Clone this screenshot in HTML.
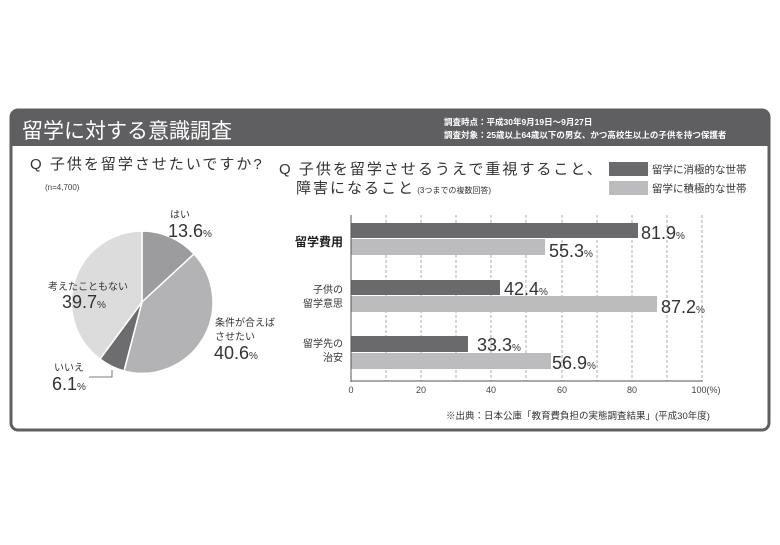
<!DOCTYPE html>
<html><head><meta charset="utf-8"><style>
body{margin:0;background:#fff;width:780px;height:540px;overflow:hidden;font-family:"Liberation Sans","Noto Sans CJK JP",sans-serif;}
</style></head><body>
<svg width="780" height="540" viewBox="0 0 780 540" xmlns="http://www.w3.org/2000/svg" font-family="Liberation Sans, Noto Sans CJK JP, sans-serif">
<rect x="11" y="110" width="758" height="320" rx="7" fill="#fff" stroke="#5f5f61" stroke-width="3"/>
<path d="M11,146 V117 a7,7 0 0 1 7,-7 H762 a7,7 0 0 1 7,7 V146 Z" fill="#5f5f61"/>
<text x="22" y="138" font-size="21" fill="#fff">留学に対する意識調査</text>
<text x="444" y="125" font-size="8.5" font-weight="bold" fill="#fff">調査時点：平成30年9月19日～9月27日</text>
<text x="444" y="138" font-size="8.5" font-weight="bold" fill="#fff">調査対象：25歳以上64歳以下の男女、かつ高校生以上の子供を持つ保護者</text>
<text x="30" y="169" font-size="15" fill="#333" letter-spacing="2">Q 子供を留学させたいですか?</text>
<text x="45" y="190" font-size="8" fill="#444">(n=4,700)</text>
<g stroke="#fff" stroke-width="1.5">
<path d="M142,302 L142,231 A71,71 0 0 1 194,254 Z" fill="#9c9c9e"/>
<path d="M142,302 L194,254 A71,71 0 0 1 124,371 Z" fill="#b3b3b5"/>
<path d="M142,302 L124,371 A71,71 0 0 1 100,359 Z" fill="#6d6d6f"/>
<path d="M142,302 L100,359 A71,71 0 0 1 142,231 Z" fill="#dcdcdd"/>
</g>
<text x="170" y="218" font-size="10" fill="#333">はい</text>
<text x="168" y="237" font-size="18" fill="#333">13.6<tspan font-size="10">%</tspan></text>
<text x="48" y="290" font-size="10" fill="#333">考えたこともない</text>
<text x="62" y="308" font-size="18" fill="#333">39.7<tspan font-size="10">%</tspan></text>
<text x="215" y="326" font-size="10" fill="#333">条件が合えば</text>
<text x="215" y="340" font-size="10" fill="#333">させたい</text>
<text x="214" y="359" font-size="18" fill="#333">40.6<tspan font-size="10">%</tspan></text>
<text x="54" y="371" font-size="10" fill="#333">いいえ</text>
<text x="52" y="390" font-size="18" fill="#333">6.1<tspan font-size="10">%</tspan></text>
<polyline points="89,377 112,377 112,370" fill="none" stroke="#555" stroke-width="0.8"/>
<text x="279" y="174" font-size="15" fill="#333" letter-spacing="2">Q 子供を留学させるうえで重視すること、</text>
<text x="296" y="193" font-size="15" fill="#333" letter-spacing="2">障害になること<tspan font-size="8" letter-spacing="0"> (3つまでの複数回答)</tspan></text>
<rect x="609" y="162" width="39" height="14" fill="#6a6a6c"/>
<rect x="609" y="181" width="39" height="14" fill="#bcbcbe"/>
<text x="652" y="173" font-size="10.5" fill="#333">留学に消極的な世帯</text>
<text x="652" y="192" font-size="10.5" fill="#333">留学に積極的な世帯</text>
<g stroke="#999" stroke-width="0.8" stroke-dasharray="3,2">
<line x1="386" y1="215" x2="386" y2="381"/><line x1="421" y1="215" x2="421" y2="381"/>
<line x1="456" y1="215" x2="456" y2="381"/><line x1="491" y1="215" x2="491" y2="381"/>
<line x1="526" y1="215" x2="526" y2="381"/><line x1="562" y1="215" x2="562" y2="381"/>
<line x1="597" y1="215" x2="597" y2="381"/><line x1="632" y1="215" x2="632" y2="381"/>
<line x1="667" y1="215" x2="667" y2="381"/><line x1="702" y1="215" x2="702" y2="381"/>
</g>
<rect x="351" y="223" width="287" height="15" fill="#6a6a6c"/>
<rect x="351" y="239" width="194" height="16" fill="#bcbcbe"/>
<rect x="351" y="280" width="149" height="15" fill="#6a6a6c"/>
<rect x="351" y="296" width="306" height="16" fill="#bcbcbe"/>
<rect x="351" y="336" width="117" height="16" fill="#6a6a6c"/>
<rect x="351" y="353" width="200" height="16" fill="#bcbcbe"/>
<line x1="351" y1="215" x2="351" y2="382" stroke="#555" stroke-width="1"/>
<line x1="351" y1="381" x2="703" y2="381" stroke="#555" stroke-width="1"/>
<g font-size="18" fill="#333">
<text x="641" y="239">81.9<tspan font-size="10">%</tspan></text>
<text x="549" y="257">55.3<tspan font-size="10">%</tspan></text>
<text x="504" y="295">42.4<tspan font-size="10">%</tspan></text>
<text x="661" y="313">87.2<tspan font-size="10">%</tspan></text>
<text x="477" y="351">33.3<tspan font-size="10">%</tspan></text>
<text x="552" y="369">56.9<tspan font-size="10">%</tspan></text>
</g>
<text x="343" y="246" font-size="12" font-weight="bold" fill="#222" text-anchor="end">留学費用</text>
<g font-size="10" fill="#333" text-anchor="end">
<text x="343" y="293">子供の</text><text x="343" y="307">留学意思</text>
<text x="343" y="347">留学先の</text><text x="343" y="361">治安</text>
</g>
<g font-size="9" fill="#444" text-anchor="middle">
<text x="351" y="393">0</text><text x="421" y="393">20</text><text x="491" y="393">40</text>
<text x="562" y="393">60</text><text x="632" y="393">80</text><text x="706" y="393">100(%)</text>
</g>
<text x="446" y="419" font-size="9.5" fill="#333">※出典：日本公庫「教育費負担の実態調査結果」(平成30年度)</text>
</svg>
</body></html>
